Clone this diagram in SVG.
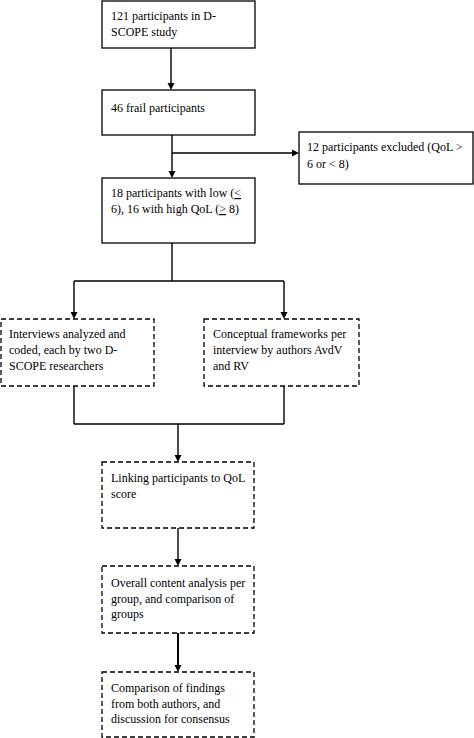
<svg xmlns="http://www.w3.org/2000/svg" width="474" height="738" viewBox="0 0 474 738">
<style>
.box{fill:#fff;stroke:#000;stroke-width:1.3}
.dash{fill:#fff;stroke:#000;stroke-width:1.3;stroke-dasharray:5,3}
.ln{fill:none;stroke:#000;stroke-width:1.4}
.ah{fill:#000;stroke:none}
text{font-family:"Liberation Serif","Times New Roman",serif;font-size:12px;fill:#000}
</style>
<rect width="474" height="738" fill="#fff"/>
<g id="connectors">
<path class="ln" d="M171,48 V84"/>
<path class="ah" d="M167.5,83 L174.5,83 L171,90 Z"/>
<path class="ln" d="M172,135 V172"/>
<path class="ah" d="M168.5,171 L175.5,171 L172,178 Z"/>
<path class="ln" d="M172,153 H293"/>
<path class="ah" d="M292,149.5 L292,156.5 L299,153 Z"/>
<path class="ln" d="M172,243 V281 M74,281 H284 M74,281 V313 M284,281 V313"/>
<path class="ah" d="M70.5,312 L77.5,312 L74,319 Z"/>
<path class="ah" d="M280.5,312 L287.5,312 L284,319 Z"/>
<path class="ln" d="M74,386 V424 M284,386 V424 M74,424 H284 M178,424 V456"/>
<path class="ah" d="M174.5,455 L181.5,455 L178,462 Z"/>
<path class="ln" d="M178,528 V560"/>
<path class="ah" d="M174.5,559 L181.5,559 L178,566 Z"/>
<path class="ln" d="M178,633 V666" style="stroke-width:2"/>
<path class="ah" d="M174.5,665 L181.5,665 L178,672 Z"/>
</g>
<g id="n1">
<rect class="box" x="102" y="1" width="153" height="47"/>
<text x="111" y="20">121 participants in D-</text>
<text x="111" y="36">SCOPE study</text>
</g>
<g id="n2">
<rect class="box" x="102" y="90" width="153" height="45"/>
<text x="111" y="112">46 frail participants</text>
</g>
<g id="n3">
<rect class="box" x="299" y="132" width="174" height="52"/>
<text x="307" y="151">12 participants excluded (QoL &gt;</text>
<text x="307" y="168">6 or &lt; 8)</text>
</g>
<g id="n4">
<rect class="box" x="102" y="178" width="153" height="65"/>
<text x="111" y="197">18 participants with low (<tspan text-decoration="underline">&lt;</tspan></text>
<text x="111" y="213">6), 16 with high QoL (<tspan text-decoration="underline">&gt;</tspan> 8)</text>
</g>
<g id="n5">
<rect class="dash" x="1" y="319" width="153" height="67"/>
<text x="9" y="338">Interviews analyzed and</text>
<text x="9" y="354">coded, each by two D-</text>
<text x="9" y="370">SCOPE researchers</text>
</g>
<g id="n6">
<rect class="dash" x="204" y="319" width="155" height="67"/>
<text x="213" y="338">Conceptual frameworks per</text>
<text x="213" y="354">interview by authors AvdV</text>
<text x="213" y="370">and RV</text>
</g>
<g id="n7">
<rect class="dash" x="102" y="462" width="152" height="66"/>
<text x="111" y="482">Linking participants to QoL</text>
<text x="111" y="498">score</text>
</g>
<g id="n8">
<rect class="dash" x="102" y="566" width="152" height="67"/>
<text x="111" y="587">Overall content analysis per</text>
<text x="111" y="603">group, and comparison of</text>
<text x="111" y="618">groups</text>
</g>
<g id="n9">
<rect class="dash" x="102" y="672" width="152" height="65"/>
<text x="111" y="692">Comparison of findings</text>
<text x="111" y="708">from both authors, and</text>
<text x="111" y="723">discussion for consensus</text>
</g>
</svg>
